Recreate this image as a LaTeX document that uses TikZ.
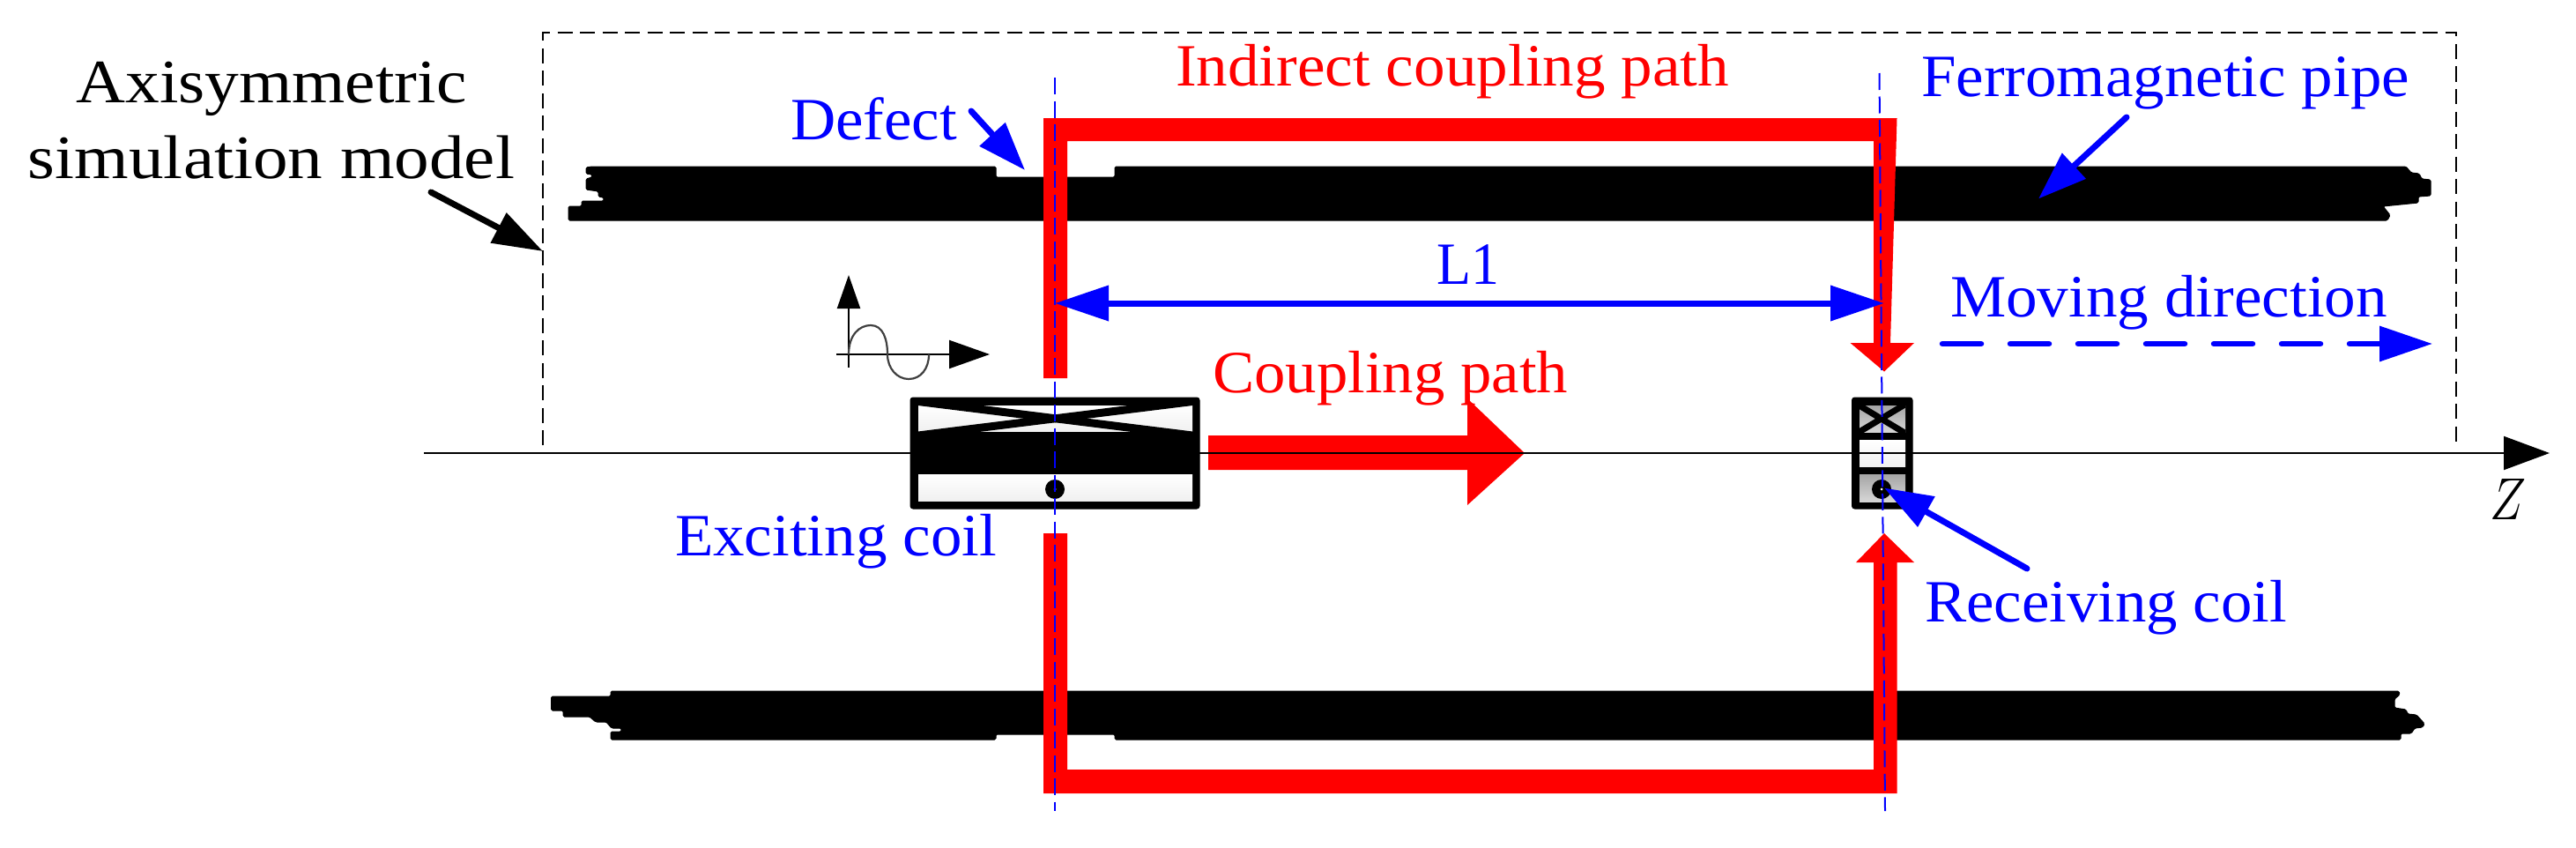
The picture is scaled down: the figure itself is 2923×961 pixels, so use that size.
\documentclass[tikz,border=0pt]{standalone}
\usepackage{graphicx}
\usepackage{fontspec}
\setmainfont{Liberation Serif}
\usetikzlibrary{arrows.meta}
\newcommand{\fitw}[2]{\resizebox{#1pt}{\height}{#2}}
\tikzset{
  lab/.style={anchor=base west,inner sep=0pt,outer sep=0pt,font=\fontsize{68}{80}\selectfont},
  bluelab/.style={lab,text={rgb,255:red,0;green,0;blue,255}},
  redlab/.style={lab,text={rgb,255:red,255;green,0;blue,0}},
  callout/.style={line width=#1,line cap=round},
  bluecall/.style={callout=7pt,draw=pblue,-{Triangle[length=55pt,width=38pt,fill=pblue]}},
  blackcall/.style={callout=7pt,draw=black,-{Triangle[length=57pt,width=37pt,fill=black]}},
  center line/.style={draw=pblue,line width=2pt,dash pattern=on 19pt off 7.5pt},
  redpath/.style={fill=pred,draw=none},
  pipe/.style={fill=black,draw=black,line width=1pt,rounded corners=1.5pt},
  coilframe/.style={fill=black,draw=black,line width=1pt,rounded corners=3pt},
  cellhi/.style={top color=white,bottom color=lightcell,draw=none},
  celllo/.style={top color=graycelltop,bottom color=graycellbot,draw=none},
}
\definecolor{pblue}{RGB}{0,0,255}
\definecolor{pred}{RGB}{255,0,0}
\definecolor{lightcell}{RGB}{240,240,240}
\definecolor{graycelltop}{RGB}{165,165,165}
\definecolor{graycellbot}{RGB}{215,215,215}
\definecolor{sinegray}{RGB}{64,64,64}
\begin{document}
\begin{tikzpicture}[x=1pt,y=-1pt]
\useasboundingbox (0,0) rectangle (2923,961);
% named ends
\coordinate (boxBL) at (616,505);
\coordinate (boxTL) at (616,37);
\coordinate (boxTR) at (2787,37);
\coordinate (boxBR) at (2787,505);
\coordinate (axisL) at (481,514);
\coordinate (axisR) at (2893,514);
\coordinate (cLt) at (1197,88);
\coordinate (cLb) at (1197,920);
\coordinate (cRt) at (2132.5,83);
\coordinate (cRb) at (2139,920);
\coordinate (l1L) at (1197,344);
\coordinate (l1R) at (2138,344);
\coordinate (moveA) at (2204,390);
\coordinate (moveB) at (2760,390);
\coordinate (defA) at (1102,126);
\coordinate (defB) at (1163,193);
\coordinate (ferA) at (2413,133);
\coordinate (ferB) at (2313,225.5);
\coordinate (recA) at (2300,645);
\coordinate (recB) at (2138,553.5);
\coordinate (axiA) at (489,218);
\coordinate (axiB) at (616,285);
\coordinate (sO) at (963,417);
\coordinate (sY) at (963,312);
\coordinate (sP) at (949,402);
\coordinate (sX) at (1123,402);
% dashed model boundary
\draw[black,line width=2.5pt,dash pattern=on 17pt off 8.5pt] (boxBL) -- (boxTL) -- (boxTR) -- (boxBR);
% pipes
\fill[pipe] (672,189) -- (665,190) -- (665,197) -- (672,198) -- (672,201) -- (665,203) -- (665,215) -- (679,217) -- (679,223) -- (685,224) -- (685,228) -- (660,228) -- (660,234) -- (645,234) -- (645,250) -- (2709,250) -- (2712,244) -- (2704,234) -- (2744,230) -- (2744,223) -- (2758,222) -- (2758,204) -- (2748,203) -- (2745,197) -- (2736,196) -- (2730,189) -- (1265,189) -- (1265,201) -- (1130,201) -- (1130,189) -- cycle;
\fill[pipe] (693,784) -- (693,790) -- (625.5,790) -- (625.5,806) -- (639,806) -- (639,813) -- (669,813) -- (676,819) -- (688,819) -- (694,826) -- (705,826) -- (705,830) -- (693,830) -- (693,839) -- (1130,839) -- (1130,833) -- (1265,833) -- (1265,839) -- (2724,839) -- (2724,832) -- (2736,832) -- (2740,826) -- (2749,825) -- (2751,821) -- (2742,811) -- (2732,810) -- (2730,805) -- (2717,803) -- (2717,793) -- (2723,788) -- (2722,784) -- cycle;
% red flux paths
\fill[redpath] (1184,429) -- (1184,134) -- (2152.5,134) -- (2145,389) -- (2172,389) -- (2138,421.5) -- (2099.5,389) -- (2126,389) -- (2126,160) -- (1211,160) -- (1211,429) -- cycle;
\fill[redpath] (1184,605) -- (1184,900) -- (2152.5,900) -- (2152.5,638) -- (2172,638) -- (2138,605) -- (2106,638) -- (2126,638) -- (2126,873) -- (1211,873) -- (1211,605) -- cycle;
\fill[redpath] (1371,494) -- (1665,494) -- (1665,452) -- (1730,514) -- (1665,573) -- (1665,533) -- (1371,533) -- cycle;
% exciting coil
\fill[coilframe] (1033,451) rectangle (1361,577);
\fill[cellhi] (1042,460) rectangle (1353,489);
\fill[cellhi] (1042,538) rectangle (1353,568);
\begin{scope}
\clip (1042,460) rectangle (1353,489);
\draw[black,line width=9pt] (1042,455.5) -- (1353,494);
\draw[black,line width=9pt] (1042,494) -- (1353,455.5);
\end{scope}
% receiving coil
\fill[coilframe] (2101.5,451) rectangle (2170,577);
\fill[celllo] (2110,460.5) rectangle (2162,490);
\fill[cellhi] (2110,499) rectangle (2162,529);
\fill[celllo] (2110,538) rectangle (2162,569);
\begin{scope}
\clip (2110,460.5) rectangle (2162,490);
\draw[black,line width=7pt] (2108,459) -- (2162,491.5);
\draw[black,line width=7pt] (2108,491) -- (2162,458.5);
\end{scope}
% conductors
\fill[black] (1197,555) circle (11);
\fill[white] (1197,555) circle (1.5);
\fill[black] (2135,555) circle (11);
\fill[white] (2135,555) circle (1.5);
% axis
\draw[black,line width=2pt,-{Triangle[length=52pt,width=38pt,fill=black]}] (axisL) -- (axisR);
% centre lines
\draw[center line] (cLt) -- (cLb);
\draw[center line] (cRt) -- (cRb);
% L1 dimension
\draw[pblue,line width=7pt,{Triangle[length=61pt,width=39pt,fill=pblue]}-{Triangle[length=61pt,width=39pt,fill=pblue]}] (l1L) -- (l1R);
% moving direction
\draw[pblue,line width=6.5pt,line cap=round,dash pattern=on 44pt off 33pt,-{Triangle[length=60pt,width=39pt,fill=pblue]}] (moveA) -- (moveB);
% callouts
\draw[bluecall] (defA) -- (defB);
\draw[bluecall] (ferA) -- (ferB);
\draw[bluecall] (recA) -- (recB);
\draw[blackcall] (axiA) -- (axiB);
% excitation icon
\draw[black,line width=2.2pt,-{Triangle[length=38pt,width=26pt,fill=black]}] (sO) -- (sY);
\draw[black,line width=2.2pt,-{Triangle[length=46pt,width=32pt,fill=black]}] (sP) -- (sX);
\draw[sinegray,line width=2.2pt] (963,402) .. controls (963,380) and (975,369) .. (988,369) .. controls (1002,369) and (1007,385) .. (1007,402) .. controls (1007,418) and (1018,430) .. (1031,430) .. controls (1045,430) and (1054,418) .. (1054,402);
% labels
\node[lab,anchor=base,align=center,font=\fontsize{70}{86}\selectfont] (axilab) at (308,202) {\fitw{443}{Axisymmetric}\\\fitw{552}{simulation model}};
\node[bluelab] (deflab) at (897,158) {\fitw{189}{Defect}};
\node[redlab] (indlab) at (1334,97) {\fitw{628}{Indirect coupling path}};
\node[bluelab] (ferlab) at (2180,109) {\fitw{554}{Ferromagnetic pipe}};
\node[bluelab] (l1lab) at (1630,322) {\fitw{71}{L1}};
\node[bluelab] (movlab) at (2213,359.5) {\fitw{496}{Moving direction}};
\node[redlab] (couplab) at (1376,445) {\fitw{403}{Coupling path}};
\node[bluelab] (exclab) at (766,630) {\fitw{365}{Exciting coil}};
\node[bluelab] (reclab) at (2184,705) {\fitw{411}{Receiving coil}};
\node[lab] (zlab) at (2825,589) {\resizebox{41pt}{46pt}{$Z$}};
\end{tikzpicture}
\end{document}
